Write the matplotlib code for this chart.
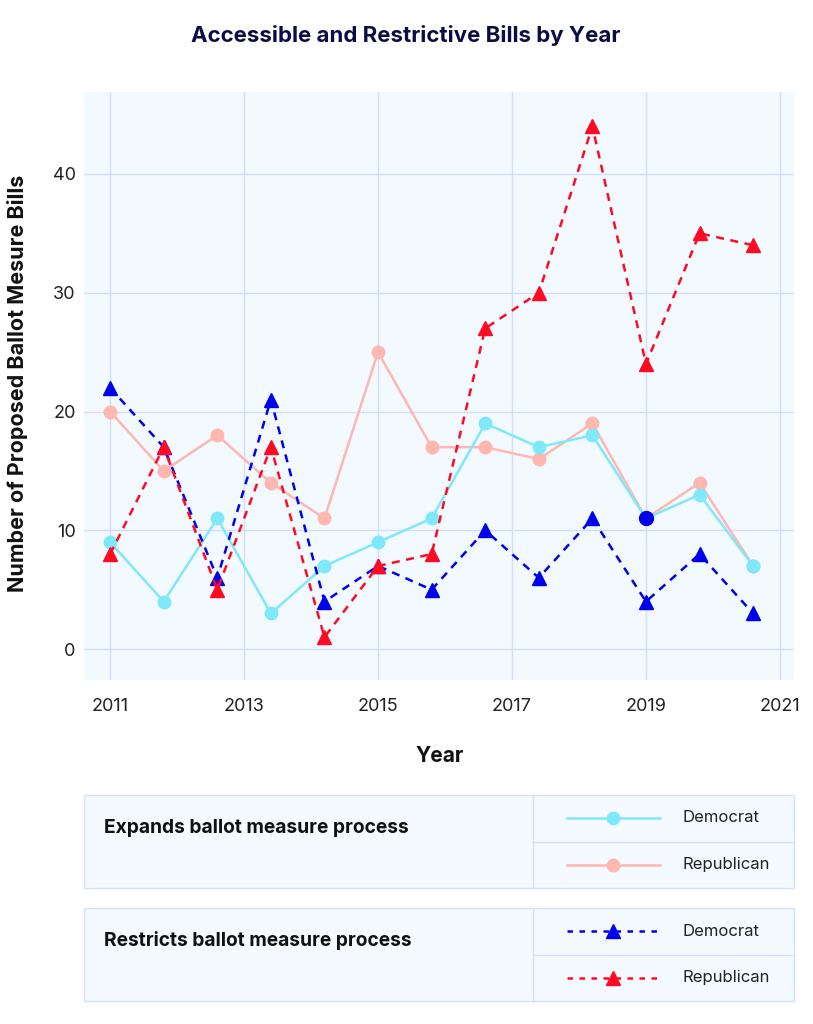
import matplotlib
matplotlib.use("Agg")
import matplotlib.pyplot as plt
from matplotlib.patches import Rectangle
from matplotlib.lines import Line2D

years = [2011.0, 2011.8, 2012.6, 2013.4, 2014.2, 2015.0, 2015.8, 2016.6,
         2017.4, 2018.2, 2019.0, 2019.8, 2020.6]
expand_dem = [9, 4, 11, 3, 7, 9, 11, 19, 17, 18, 11, 13, 7]
expand_rep = [20, 15, 18, 14, 11, 25, 17, 17, 16, 19, 11, 14, 7]
restrict_dem = [22, 17, 6, 21, 4, 7, 5, 10, 6, 11, 4, 8, 3]
restrict_rep = [8, 17, 5, 17, 1, 7, 8, 27, 30, 44, 24, 35, 34]
highlight_index = 10

x_ticks = [2011, 2013, 2015, 2017, 2019, 2021]
y_ticks = [0, 10, 20, 30, 40]

title = "Accessible and Restrictive Bills by Year"
x_label = "Year"
y_label = "Number of Proposed Ballot Mesure Bills"
group_labels = ["Expands ballot measure process", "Restricts ballot measure process"]
party_labels = ["Democrat", "Republican"]

C_DEM_EXP = "#7fe8fb"
C_REP_EXP = "#ffb7b0"
C_DEM_RES = "#0000ee"
C_REP_RES = "#ff0a22"
C_GRID = "#d2ddff"
C_BG = "#f2f9ff"
FONT = "Inter"

plt.rcParams['font.family'] = [FONT, 'DejaVu Sans']

W, H = 813, 1024
fig = plt.figure(figsize=(W / 100, H / 100), dpi=100)

def fx(px):
    return px / W

def fy(py):
    return 1 - py / H

ax = fig.add_axes([fx(84), fy(680), fx(794) - fx(84), fy(92) - fy(680)])
ax.set_facecolor(C_BG)
for s in ax.spines.values():
    s.set_visible(False)
ax.set_xlim(2010.61, 2021.21)
ax.set_ylim(-2.6, 46.9)
ax.set_xticks(x_ticks)
ax.set_yticks(y_ticks)
ax.grid(True, color=C_GRID, linewidth=1.0)
ax.set_axisbelow(True)
ax.tick_params(length=0, labelsize=13, colors="#222222")
ax.tick_params(axis='x', pad=13)
ax.tick_params(axis='y', pad=6)

dash = (3.2, 2.6)
ax.plot(years, expand_rep, color=C_REP_EXP, lw=1.8, marker='o', ms=9, zorder=3)
ax.plot(years, expand_dem, color=C_DEM_EXP, lw=1.8, marker='o', ms=9, zorder=3)
ax.plot(years, restrict_dem, color=C_DEM_RES, lw=1.8, ls=(0, dash), marker='^', ms=10, zorder=4)
ax.plot(years, restrict_rep, color=C_REP_RES, lw=1.8, ls=(0, dash), marker='^', ms=10, zorder=5)
ax.plot([years[highlight_index]], [expand_dem[highlight_index]], marker='o', ms=10,
        color="#0000e6", ls='none', zorder=6)

fig.text(fx(406), fy(35), title, ha='center', va='center', fontsize=16,
         fontweight='bold', color="#0d0d45")
fig.text(fx(440), fy(756), x_label, ha='center', va='center', fontsize=15,
         fontweight='bold', color="#111111")
fig.text(fx(18), fy(383), y_label, ha='center', va='center', rotation=90,
         fontsize=15.5, fontweight='bold', color="#111111")

# legend area
lg = fig.add_axes([0, 0, 1, 1], facecolor='none')
lg.set_xlim(0, W)
lg.set_ylim(H, 0)
lg.axis('off')
border = "#d5e0ff"
boxes = [(795, 888), (908, 1001)]
styles = [
    [dict(color=C_DEM_EXP, ls='-', marker='o'), dict(color=C_REP_EXP, ls='-', marker='o')],
    [dict(color=C_DEM_RES, ls=(0, (2.2, 2.6)), marker='^'), dict(color=C_REP_RES, ls=(0, (2.2, 2.6)), marker='^')],
]
for (top, bot), glabel, sty in zip(boxes, group_labels, styles):
    lg.add_patch(Rectangle((84, top), 710, bot - top, facecolor="#f4faff",
                           edgecolor=border, lw=1.0))
    lg.plot([533, 533], [top, bot], color=border, lw=1.0)
    mid = (top + bot) / 2
    lg.plot([533, 794], [mid, mid], color=border, lw=1.0)
    lg.text(104, top + 33, glabel, ha='left', va='center', fontsize=13.8,
            fontweight='bold', color="#111111")
    for k, (st, pl) in enumerate(zip(sty, party_labels)):
        yc = top + 23 + k * (bot - top) / 2
        lg.add_line(Line2D([567, 660], [yc, yc], color=st['color'], ls=st['ls'],
                           lw=1.8))
        lg.add_line(Line2D([613], [yc], color=st['color'], marker=st['marker'],
                           ms=9 if st['marker'] == 'o' else 10, ls='none'))
        lg.text(682, yc, pl, ha='left', va='center', fontsize=12, color="#222222")

fig.savefig("out.png", dpi=100, facecolor='white')
